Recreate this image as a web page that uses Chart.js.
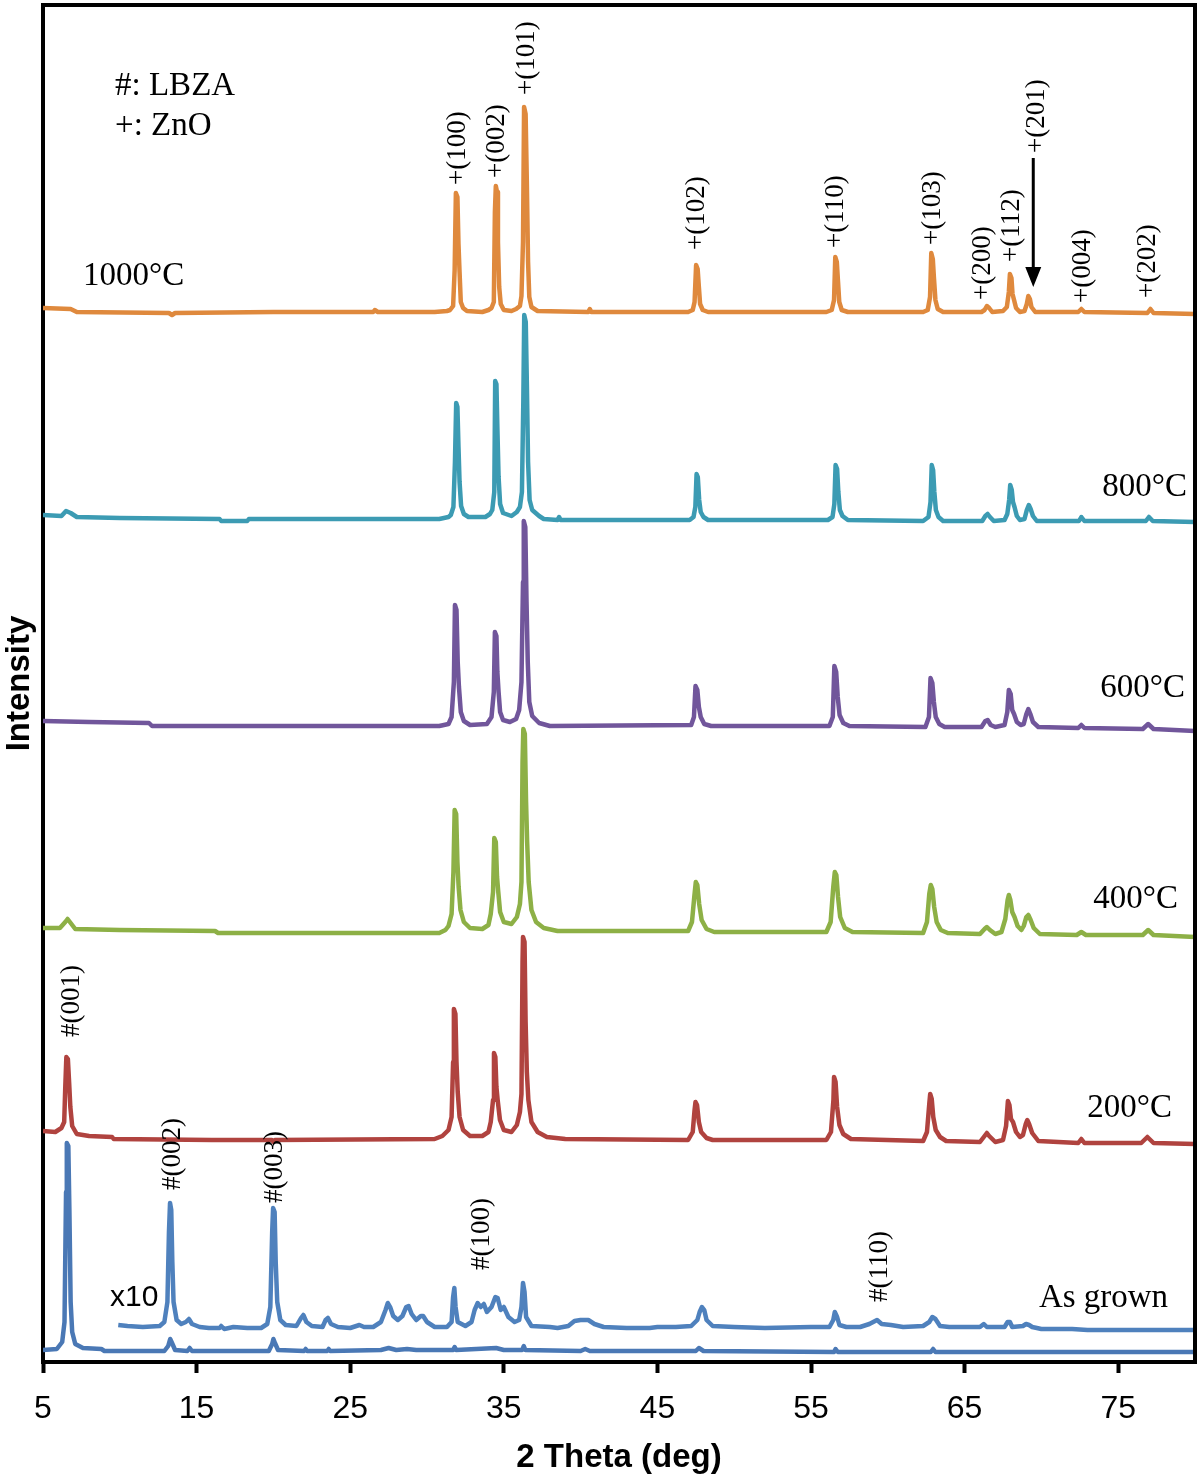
<!DOCTYPE html>
<html>
<head>
<meta charset="utf-8">
<title>XRD patterns</title>
<script src="https://cdn.jsdelivr.net/npm/chart.js@4.4.0/dist/chart.umd.min.js"></script>
<style>
  body { margin: 0; background: #fff; }
  canvas { display: block; }
</style>
</head>
<body>
<canvas id="xrdChart" width="1200" height="1478"></canvas>
<script>
// tick labels on the 2 theta axis
const xTicks = [5, 15, 25, 35, 45, 55, 65, 75];

// traces: [2 theta, intensity (a.u., stacked offsets)]
const asGrown = [[5,12],[5.9,13],[6.25,20],[6.4,40],[6.5,170],[6.55,219],[6.65,216],[6.72,150],[6.8,60],[6.9,30],[7.1,18],[7.6,14],[8.8,13],[9.0,11],
  [12.9,11],[13.15,16],[13.28,23],[13.4,19],[13.6,12],[14.4,11],[14.55,14],[14.7,11],[19.7,11],[19.92,18],[20.0,23],[20.1,19],[20.3,12],
  [22,11],[22.1,13],[22.2,11],[23.5,11],[23.6,13],[23.7,11],[27,12],[27.5,14],[28,12],[28.7,13],[29.3,12],[31.7,12],[31.8,15],[31.9,12],
  [33.2,13],[34.5,14],[35,12],[36.2,12],[36.3,16],[36.4,12],[40,11],[40.3,13],[40.6,11],[47.5,11],[47.7,14],[48.0,11],
  [56.5,10],[56.6,13],[56.75,10],[62.8,10],[62.95,13],[63.1,10],[80,10]];

const asGrownX10 = [[9.9,37],[10.5,36],[11.5,35],[12.6,36],[12.9,40],[13.1,60],[13.2,130],[13.27,159],[13.35,152],[13.42,100],[13.5,60],[13.7,42],
  [14.0,38],[14.3,40],[14.5,43],[14.7,38],[15.2,35],[15.8,34],[16.5,34],[16.6,36],[16.8,33],[17.4,35],[18.3,34],[19.2,34],[19.6,38],[19.8,55],
  [19.92,130],[19.98,154],[20.08,150],[20.15,100],[20.25,60],[20.45,42],[20.8,37],[21.5,36],[21.8,44],[21.95,47],[22.15,40],[22.5,36],
  [23.2,35],[23.4,42],[23.55,44],[23.75,38],[24.2,35],[25,34],[25.4,36],[25.6,37],[25.9,35],[26.5,35],[27.0,40],[27.3,52],[27.45,59],
  [27.6,55],[27.8,46],[28.1,42],[28.4,46],[28.65,55],[28.8,56],[29.0,48],[29.3,42],[29.6,46],[29.75,46],[30.0,40],[30.5,35],[31.3,35],
  [31.6,40],[31.7,65],[31.78,74],[31.86,55],[32.0,40],[32.5,36],[32.9,40],[33.1,52],[33.3,59],[33.5,55],[33.7,58],[33.9,50],[34.2,55],
  [34.45,65],[34.6,64],[34.8,52],[35.0,55],[35.3,45],[35.7,40],[36.0,42],[36.15,55],[36.25,79],[36.35,70],[36.45,45],[36.8,36],[38.0,35],
  [38.5,34],[39.2,36],[39.6,41],[40.0,42],[40.5,42],[40.9,38],[41.5,35],[43,34],[44.5,34],[45,35],[46.2,35],[47.2,36],[47.6,42],[47.75,50],
  [47.9,55],[48.05,52],[48.2,42],[48.6,36],[50,35],[52,34],[55,35],[56.2,35],[56.45,42],[56.55,50],[56.7,45],[56.85,37],[57.3,35],[58.2,35],
  [58.8,38],[59.3,42],[59.6,38],[60.2,37],[61,35],[62.3,36],[62.7,40],[62.9,45],[63.1,43],[63.4,36],[64,35],[66.0,35],[66.25,38],[66.45,35],
  [67.6,35],[67.8,40],[67.95,40],[68.1,35],[68.8,36],[69.0,38],[69.2,37],[69.4,35],[70,33],[72,33],[73,32],[76,32],[80,32]];

const c200 = [[5,231],[5.8,230],[6.2,234],[6.38,240],[6.45,275],[6.52,305],[6.62,303],[6.7,280],[6.78,255],[6.9,236],[7.2,228],[8,226],
  [9.5,225],[9.6,223],[16,222],[19.9,222],[20.0,220],[20.1,222],[30.5,223],[31.0,226],
  [31.4,232],[31.6,245],[31.7,300],[31.75,353],[31.85,348],[31.92,300],[32.0,270],[32.12,245],[32.35,232],[32.8,226],[33.6,226],[34.0,230],
  [34.15,240],[34.3,262],[34.36,309],[34.45,305],[34.52,275],[34.6,262],[34.75,242],[35.0,232],[35.5,230],[35.85,237],
  [36.05,250],[36.15,268],[36.22,400],[36.25,425],[36.35,420],[36.42,340],[36.5,290],[36.6,262],[36.8,240],[37.2,230],[37.8,225],[39,223],
  [47.0,222],[47.3,230],[47.42,252],[47.48,260],[47.58,257],[47.7,240],[47.85,230],[48.2,224],[48.6,222],
  [56.0,222],[56.3,230],[56.46,262],[56.5,285],[56.6,280],[56.7,255],[56.85,237],[57.1,228],[57.6,223],
  [62.3,221],[62.55,230],[62.7,258],[62.76,268],[62.86,263],[62.96,245],[63.12,232],[63.4,225],[63.8,221],
  [66.0,220],[66.3,226],[66.45,229],[66.6,226],[67.0,220],
  [67.5,222],[67.7,236],[67.82,261],[67.92,257],[68.02,243],[68.15,240],[68.35,230],[68.6,225],
  [68.8,227],[68.98,238],[69.08,242],[69.2,238],[69.4,229],[69.8,221],
  [72.4,219],[72.6,223],[72.8,219],[76.5,219],[76.9,225],[77.3,219],[80,218]];

const c400 = [[5,434],[6.1,434],[6.45,440],[6.6,443],[6.8,439],[7.1,433],[10,432],[16.2,431],[16.4,429],[30.8,429],[31.2,432],
  [31.4,436],[31.6,448],[31.72,490],[31.8,552],[31.9,548],[31.98,500],[32.06,475],[32.18,452],[32.4,440],[32.8,434],[33.6,433],[34.0,437],
  [34.15,448],[34.3,470],[34.38,524],[34.48,520],[34.56,485],[34.64,470],[34.76,450],[35.0,440],[35.5,438],[35.85,445],
  [36.05,458],[36.15,480],[36.22,600],[36.27,633],[36.37,628],[36.45,560],[36.52,520],[36.62,480],[36.8,452],[37.1,440],[37.6,434],[38.5,431],
  [47.0,431],[47.25,440],[47.4,465],[47.5,480],[47.6,477],[47.72,458],[47.88,442],[48.2,433],[48.7,430],
  [56.0,430],[56.28,440],[56.45,475],[56.55,490],[56.65,487],[56.76,465],[56.9,445],[57.2,434],[57.7,430],
  [62.3,429],[62.55,440],[62.7,468],[62.8,477],[62.9,473],[63.02,455],[63.18,440],[63.45,432],[63.9,429],
  [66.0,428],[66.3,433],[66.45,435],[66.65,432],[67.0,428],
  [67.4,430],[67.65,443],[67.8,462],[67.88,467],[67.98,462],[68.1,450],[68.25,445],[68.45,436],[68.7,432],
  [68.85,436],[69.02,445],[69.15,447],[69.3,442],[69.5,434],[69.9,428],
  [72.3,427],[72.6,430],[72.9,427],[76.6,427],[76.95,432],[77.3,427],[80,425]];

const c600 = [[5,641],[8,640],[11.9,639],[12.1,636],[30.8,636],
  [31.4,638],[31.6,645],[31.75,680],[31.82,757],[31.92,752],[32.0,700],[32.08,675],[32.2,650],[32.4,641],[32.8,637],
  [33.9,638],[34.2,645],[34.35,670],[34.42,730],[34.52,726],[34.58,690],[34.66,670],[34.76,650],[34.95,642],[35.4,640],
  [35.8,643],[36.0,652],[36.15,680],[36.25,780],[36.3,841],[36.4,835],[36.48,760],[36.56,700],[36.66,660],[36.85,646],[37.3,639],[38,636],
  [47.2,637],[47.38,645],[47.48,676],[47.6,672],[47.7,655],[47.82,645],[48.05,638],[48.5,636],
  [56.2,636],[56.42,645],[56.52,696],[56.64,690],[56.74,665],[56.86,647],[57.1,639],[57.5,636],
  [62.45,635],[62.68,645],[62.78,684],[62.9,679],[63.0,660],[63.12,645],[63.35,638],[63.7,635],
  [66.1,635],[66.35,641],[66.5,642],[66.7,637],[67.0,635],
  [67.6,637],[67.78,650],[67.88,672],[68.0,668],[68.1,652],[68.22,648],[68.4,640],[68.65,637],
  [68.85,638],[69.02,648],[69.15,653],[69.28,648],[69.45,640],[69.8,635],
  [72.4,634],[72.6,637],[72.8,634],[76.6,633],[76.95,638],[77.3,633],[80,631]];

const c800 = [[5,847],[6.2,846],[6.5,851],[6.8,849],[7.2,845],[10,844],[16.5,843],[16.6,841],[18.3,841],[18.4,843],[30.8,843],[31.4,845],
  [31.55,847],[31.72,855],[31.82,900],[31.9,959],[31.98,955],[32.05,915],[32.12,880],[32.22,856],[32.4,848],[32.7,845],
  [33.8,845],[34.1,848],
  [34.25,852],[34.38,870],[34.44,981],[34.52,978],[34.58,935],[34.66,885],[34.76,858],[34.95,849],[35.5,846],
  [35.85,850],
  [36.05,855],[36.18,870],[36.27,960],[36.33,1047],[36.43,1040],[36.5,980],[36.58,900],[36.68,862],[36.85,852],[37.3,846],
  [37.6,843],[38.5,842],[38.6,845],[38.7,842],[47.1,842],
  [47.35,845],[47.47,855],[47.55,888],[47.63,885],[47.72,862],[47.82,850],[48.0,845],[48.3,842],
  [56.1,842],[56.4,845],[56.52,858],[56.6,897],[56.7,893],[56.78,870],[56.88,852],[57.05,846],[57.4,842],
  [62.3,841],[62.65,845],[62.78,860],[62.86,897],[62.95,892],[63.03,870],[63.13,852],[63.3,845],[63.6,841],
  [66.15,841],[66.35,846],[66.5,848],[66.65,845],[66.9,841],
  [67.6,842],[67.78,848],[67.9,862],[67.97,877],[68.07,872],[68.15,860],[68.25,855],[68.4,846],[68.6,842],
  [68.9,843],[69.05,852],[69.18,857],[69.3,853],[69.45,846],[69.7,841],
  [72.45,841],[72.6,845],[72.8,841],[76.8,841],[77.0,845],[77.25,841],[80,840]];

const c1000 = [[5,1054],[6.8,1053],[7.2,1050],[13.2,1049],[13.4,1047],[13.6,1049],[20,1050],[26.5,1050],[26.6,1052],[26.8,1050],[30.5,1050],[31.3,1051],
  [31.5,1052],[31.7,1056],[31.8,1092],[31.88,1169],[31.98,1165],[32.05,1118],[32.12,1090],[32.2,1060],[32.35,1054],[32.6,1051],
  [33.6,1050],[34.0,1052],
  [34.2,1054],[34.35,1060],[34.42,1150],[34.48,1176],[34.56,1170],[34.62,1120],[34.7,1075],[34.8,1058],[35.0,1052],[35.5,1051],
  [35.8,1053],
  [36.05,1056],[36.15,1066],[36.25,1120],[36.32,1255],[36.42,1248],[36.5,1180],[36.58,1100],[36.66,1065],[36.8,1055],[37.2,1051],
  [40.5,1050],[40.6,1053],[40.7,1050],[47.0,1050],
  [47.3,1052],[47.42,1060],[47.52,1097],[47.62,1093],[47.7,1075],[47.78,1058],[47.95,1052],[48.3,1050],
  [56.0,1050],[56.35,1052],[56.5,1062],[56.58,1105],[56.68,1100],[56.76,1080],[56.84,1060],[57.0,1052],[57.4,1050],
  [62.3,1050],[62.6,1052],[62.75,1065],[62.83,1109],[62.93,1103],[63.0,1085],[63.1,1062],[63.25,1053],[63.6,1050],
  [66.1,1050],[66.3,1052],[66.45,1056],[66.6,1054],[66.8,1050],
  [67.5,1051],[67.75,1055],[67.88,1070],[67.95,1088],[68.05,1084],[68.12,1068],[68.22,1062],[68.35,1054],[68.6,1050],
  [68.9,1051],[69.05,1058],[69.15,1066],[69.25,1063],[69.35,1055],[69.6,1050],
  [72.4,1050],[72.6,1053],[72.8,1050],[76.9,1049],[77.1,1053],[77.3,1049],[80,1048]];

// reflection labels (rotated), anchored at the bottom of the text
const peakLabels = [
  { text: '+(100)', x: 32.02, y: 1177 },
  { text: '+(002)', x: 34.56, y: 1184 },
  { text: '+(101)', x: 36.52, y: 1267 },
  { text: '+(102)', x: 47.59, y: 1112 },
  { text: '+(110)', x: 56.64, y: 1114 },
  { text: '+(103)', x: 62.95, y: 1117 },
  { text: '+(200)', x: 66.21, y: 1062 },
  { text: '+(112)', x: 68.10, y: 1100 },
  { text: '+(201)', x: 69.73, y: 1209 },
  { text: '+(004)', x: 72.72, y: 1059 },
  { text: '+(202)', x: 76.95, y: 1064 },
  { text: '#(001)', x: 6.89, y: 325 },
  { text: '#(002)', x: 13.47, y: 172 },
  { text: '#(003)', x: 20.11, y: 159 },
  { text: '#(100)', x: 33.59, y: 92 },
  { text: '#(110)', x: 59.50, y: 60 }
];

// plain text labels
const textLabels = [
  { text: '#: LBZA', x: 9.69, y: 1267, align: 'left', font: '33px "Liberation Serif"' },
  { text: '+: ZnO', x: 9.69, y: 1227, align: 'left', font: '33px "Liberation Serif"' },
  { text: '1000°C', x: 7.6, y: 1077, align: 'left', font: '33px "Liberation Serif"' },
  { text: '800°C', x: 79.48, y: 866, align: 'right', font: '33px "Liberation Serif"' },
  { text: '600°C', x: 79.35, y: 665, align: 'right', font: '33px "Liberation Serif"' },
  { text: '400°C', x: 78.89, y: 454, align: 'right', font: '33px "Liberation Serif"' },
  { text: '200°C', x: 78.5, y: 245, align: 'right', font: '33px "Liberation Serif"' },
  { text: 'As grown', x: 78.25, y: 55, align: 'right', font: '33px "Liberation Serif"' },
  { text: 'x10', x: 9.36, y: 56, align: 'left', font: '30px "Liberation Sans"' }
];

function toXY(arr) {
  return arr.map(function(p) { return { x: p[0], y: p[1] }; });
}

function trace(label, arr, color) {
  return {
    label: label,
    data: toXY(arr),
    borderColor: color,
    backgroundColor: color,
    borderWidth: 4.5,
    borderJoinStyle: 'round',
    pointRadius: 0,
    tension: 0,
    fill: false
  };
}

const frameAndLabels = {
  id: 'frameAndLabels',
  afterDraw(chart) {
    const ctx = chart.ctx;
    const a = chart.chartArea;
    const xs = chart.scales.x, ys = chart.scales.y;
    ctx.save();
    // top and right side of the frame
    ctx.strokeStyle = '#000';
    ctx.lineWidth = 4;
    ctx.beginPath();
    ctx.moveTo(a.left - 2, a.top);
    ctx.lineTo(a.right, a.top);
    ctx.lineTo(a.right, a.bottom + 2);
    ctx.stroke();

    ctx.fillStyle = '#000';
    ctx.font = '27px "Liberation Serif"';
    ctx.textAlign = 'left';
    ctx.textBaseline = 'middle';
    peakLabels.forEach(function(l) {
      ctx.save();
      ctx.translate(xs.getPixelForValue(l.x), ys.getPixelForValue(l.y));
      ctx.rotate(-Math.PI / 2);
      ctx.fillText(l.text, 0, 0);
      ctx.restore();
    });

    ctx.textBaseline = 'alphabetic';
    textLabels.forEach(function(l) {
      ctx.font = l.font;
      ctx.textAlign = l.align;
      ctx.fillText(l.text, xs.getPixelForValue(l.x), ys.getPixelForValue(l.y));
    });

    // arrow down to the (201) peak
    const ax = xs.getPixelForValue(69.47);
    const ay0 = ys.getPixelForValue(1204);
    const ay1 = ys.getPixelForValue(1075);
    ctx.lineWidth = 3;
    ctx.beginPath();
    ctx.moveTo(ax, ay0);
    ctx.lineTo(ax, ay1 - 16);
    ctx.stroke();
    ctx.beginPath();
    ctx.moveTo(ax - 8, ay1 - 20);
    ctx.lineTo(ax + 8, ay1 - 20);
    ctx.lineTo(ax, ay1);
    ctx.closePath();
    ctx.fill();
    ctx.restore();
  }
};

const ctx = document.getElementById('xrdChart').getContext('2d');
const xrdChart = new Chart(ctx, {
  type: 'line',
  data: {
    datasets: [
      trace('As grown', asGrown, '#4A78B5'),
      trace('As grown x10', asGrownX10, '#4F81BD'),
      trace('200°C', c200, '#B0433F'),
      trace('400°C', c400, '#8DB046'),
      trace('600°C', c600, '#71569B'),
      trace('800°C', c800, '#3C9BB3'),
      trace('1000°C', c1000, '#DF893D')
    ]
  },
  options: {
    responsive: false,
    animation: false,
    devicePixelRatio: 1,
    layout: { padding: { top: 5, right: 5, left: 0, bottom: 0 } },
    plugins: {
      legend: { display: false },
      tooltip: { enabled: false }
    },
    scales: {
      x: {
        type: 'linear',
        min: 5,
        max: 80,
        afterBuildTicks: function(scale) {
          scale.ticks = xTicks.map(function(v) { return { value: v }; });
        },
        afterFit: function(scale) { scale.height = 116; },
        grid: {
          display: true,
          drawOnChartArea: false,
          drawTicks: true,
          tickLength: 11,
          tickWidth: 4,
          tickColor: '#000'
        },
        border: { display: true, width: 4, color: '#000' },
        ticks: {
          color: '#000',
          padding: 17,
          maxRotation: 0,
          font: { family: 'Liberation Sans', size: 32 }
        },
        title: {
          display: true,
          text: '2 Theta (deg)',
          color: '#000',
          padding: 0,
          font: { family: 'Liberation Sans', size: 33, weight: 'bold', lineHeight: 1.2 }
        }
      },
      y: {
        type: 'linear',
        min: 0,
        max: 1357,
        afterFit: function(scale) { scale.width = 43; },
        grid: { display: false },
        border: { display: true, width: 4, color: '#000' },
        ticks: { display: false },
        title: {
          display: true,
          text: 'Intensity',
          color: '#000',
          padding: 0,
          font: { family: 'Liberation Sans', size: 33, weight: 'bold', lineHeight: 1.2 }
        }
      }
    }
  },
  plugins: [frameAndLabels]
});
</script>
</body>
</html>
